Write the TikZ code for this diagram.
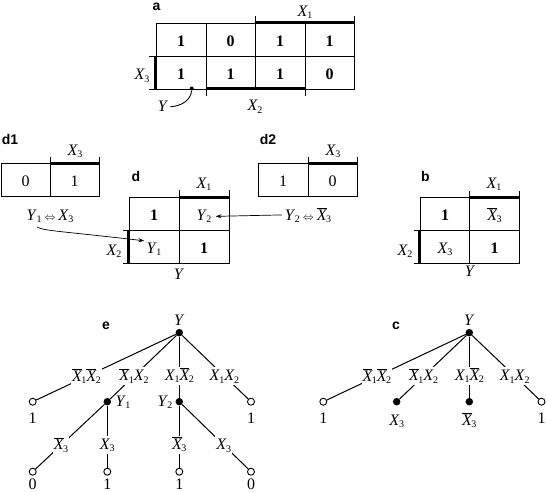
\documentclass[tikz,border=0pt]{standalone}
\usepackage{fontspec}
\setmainfont{Liberation Serif}
\newfontfamily\lblfont{Liberation Sans}
\usetikzlibrary{arrows.meta}
\newcommand\mysub[1]{\raisebox{-2.2pt}{\fontsize{10}{10}\selectfont #1}}
\newcommand\VX[1]{\textit{X}\kern-0.03em\mysub{#1}}
\newcommand\VXB[1]{$\overline{\mbox{\itshape X}}$\kern-0.03em\mysub{#1}}
\newcommand\VY[1]{\textit{Y}\kern-0.03em\mysub{#1}}
\newcommand\myiff{\hspace{3pt}{\fontsize{11}{11}\selectfont$\Leftrightarrow$}\hspace{3pt}}
\begin{document}
\begin{tikzpicture}[x=1pt,y=-1pt,font=\fontsize{16}{18}\selectfont,
  gridln/.style={line width=0.9pt},
  thickbar/.style={line width=3pt},
  txt/.style={inner sep=0pt,anchor=base},
  bf/.style={txt,font=\fontsize{16}{18}\selectfont\bfseries},
  panel/.style={inner sep=0pt,anchor=base,font=\lblfont\bfseries\fontsize{14}{16}\selectfont},
  edge/.style={line width=1pt},
  fdot/.style={circle,fill=black,inner sep=0pt,minimum size=7.5pt},
  odot/.style={circle,draw,fill=white,inner sep=0pt,minimum size=7pt,line width=0.9pt},
  elbl/.style={fill=white,inner sep=1pt,text height=12.5pt,text depth=3pt},
  arr/.style={line width=0.7pt,-{Stealth[length=6pt,width=4pt]}}]
\useasboundingbox (0,0) rectangle (546,492);

% ---------- panel a
\node[panel] (la) at (156.5,11) {a};
\draw[gridln] (156,23) rectangle (354,89);
\draw[gridln] (206,23) -- (206,89) (255,23) -- (255,89) (305,23) -- (305,89) (156,56) -- (354,56);
\draw[thickbar] (255,23) -- (354,23);
\draw[gridln] (255,23) -- (255,16) (354,23) -- (354,16);
\draw[thickbar] (155.5,56) -- (155.5,89);
\draw[gridln] (156,56) -- (149,56) (156,89) -- (149,89);
\draw[thickbar] (206,89) -- (305,89);
\draw[gridln] (206,89) -- (206,96) (305,89) -- (305,96);
\node[txt] (ax1) at (305,16.5) {\VX{1}};
\node[txt] (ax3) at (142,80) {\VX{3}};
\node[txt] (ax2) at (255,111) {\VX{2}};
\node[txt] (ay) at (163,112) {\textit{Y}};
\node[bf] (a11) at (181,46.5) {1};
\node[bf] (a12) at (230.5,46.5) {0};
\node[bf] (a13) at (280,46.5) {1};
\node[bf] (a14) at (329.5,46.5) {1};
\node[bf] (a21) at (181,79.5) {1};
\node[bf] (a22) at (230.5,79.5) {1};
\node[bf] (a23) at (280,79.5) {1};
\node[bf] (a24) at (329.5,79.5) {0};
\node[circle,fill=black,inner sep=0pt,minimum size=4pt] (adot) at (191.7,88.5) {};
\draw[gridln] (adot) .. controls (191,99) and (183,106) .. ([xshift=2pt]ay.east);

% ---------- panel d1
\node[panel] (ld1) at (10,145) {d1};
\draw[gridln] (1,163) rectangle (99,196.5);
\draw[gridln] (50,163) -- (50,196.5);
\draw[thickbar] (50,163) -- (99,163);
\draw[gridln] (50,163) -- (50,157) (99,163) -- (99,157);
\node[txt] (d1x3) at (75,155) {\VX{3}};
\node[txt] (d1a) at (25.5,186.7) {0};
\node[txt] (d1b) at (74.5,186.7) {1};
\node[txt] (iff1) at (50,220) {\VY{1}\myiff\VX{3}};

% ---------- panel d2
\node[panel] (ld2) at (268,145) {d2};
\draw[gridln] (258,163) rectangle (357,196.5);
\draw[gridln] (308,163) -- (308,196.5);
\draw[thickbar] (308,163) -- (357,163);
\draw[gridln] (308,163) -- (308,157) (357,163) -- (357,157);
\node[txt] (d2x3) at (333,155) {\VX{3}};
\node[txt] (d2a) at (283,186.7) {1};
\node[txt] (d2b) at (332.5,186.7) {0};
\node[txt,inner sep=3pt] (iff2) at (308,220) {\VY{2}\myiff\VXB{3}};

% ---------- panel d
\node[panel] (ld) at (136,181) {d};
\draw[gridln] (129,197) rectangle (229,263);
\draw[gridln] (179,197) -- (179,263) (129,230) -- (229,230);
\draw[thickbar] (179,197) -- (229,197);
\draw[gridln] (179,197) -- (179,190) (229,197) -- (229,190);
\draw[thickbar] (128.5,230) -- (128.5,263);
\draw[gridln] (129,230) -- (123,230) (129,263) -- (123,263);
\node[txt] (dx1) at (204,188) {\VX{1}};
\node[txt] (dx2) at (114,255) {\VX{2}};
\node[txt] (dy) at (179,279) {\textit{Y}};
\node[bf] (d11) at (154,220.5) {1};
\node[txt,inner sep=4pt] (dy2) at (204,220.5) {\VY{2}};
\node[txt,inner sep=2pt] (dy1) at (154,253.5) {\VY{1}};
\node[bf] (d22) at (204,253.5) {1};

% arrows
\coordinate (s1) at (37,227);
\draw[arr] (s1) .. controls (44,231) and (60,231) .. (dy1.north west);
\draw[arr] (iff2.west) -- (dy2.east);

% ---------- panel b
\node[panel] (lb) at (425.5,181) {b};
\draw[gridln] (420,197) rectangle (519,263);
\draw[gridln] (469.5,197) -- (469.5,263) (420,230) -- (519,230);
\draw[thickbar] (469.5,197) -- (519,197);
\draw[gridln] (469.5,197) -- (469.5,191) (519,197) -- (519,191);
\draw[thickbar] (419.5,230) -- (419.5,263);
\draw[gridln] (420,230) -- (414,230) (420,263) -- (414,263);
\node[txt] (bx1) at (494,188) {\VX{1}};
\node[txt] (bx2) at (405,255.5) {\VX{2}};
\node[txt] (by) at (470,276) {\textit{Y}};
\node[bf] (b11) at (445,220.5) {1};
\node[txt] (b12) at (494.5,220.5) {\VXB{3}};
\node[txt] (b21) at (445,253.5) {\VX{3}};
\node[bf] (b22) at (494.5,253.5) {1};

% ---------- tree e
\node[panel] (le) at (106,329) {e};
\node[fdot] (er) at (179.3,332.7) {};
\node[txt] (ery) at (179.3,325) {\textit{Y}};
\node[odot] (e1) at (32.7,401.7) {};
\node[fdot] (eY1) at (107.3,401.7) {};
\node[fdot] (eY2) at (179.3,401.7) {};
\node[odot] (e4) at (251,401.7) {};
\node[odot] (e5) at (32.7,471.7) {};
\node[odot] (e6) at (107.3,471.7) {};
\node[odot] (e7) at (179.3,471.7) {};
\node[odot] (e8) at (251,471.7) {};
\draw[edge] (er) -- node[elbl,pos=0.64] {\VXB{1}\VXB{2}} (e1);
\draw[edge] (er) -- node[elbl,pos=0.64] {\VXB{1}\VX{2}} (eY1);
\draw[edge] (er) -- node[elbl,pos=0.64] {\VX{1}\VXB{2}} (eY2);
\draw[edge] (er) -- node[elbl,pos=0.64] {\VX{1}\VX{2}} (e4);
\draw[edge] (eY1) -- node[elbl,pos=0.63] {\VXB{3}} (e5);
\draw[edge] (eY1) -- node[elbl,pos=0.63] {\VX{3}} (e6);
\draw[edge] (eY2) -- node[elbl,pos=0.63] {\VXB{3}} (e7);
\draw[edge] (eY2) -- node[elbl,pos=0.63] {\VX{3}} (e8);
\node[txt] (e1v) at (32.7,423) {1};
\node[txt] (e4v) at (251,423) {1};
\node[txt] (eY1l) at (123,406) {\VY{1}};
\node[txt] (eY2l) at (165,406) {\VY{2}};
\node[txt] (e5v) at (32.7,489) {0};
\node[txt] (e6v) at (107.3,489) {1};
\node[txt] (e7v) at (179.3,489) {1};
\node[txt] (e8v) at (251,489) {0};

% ---------- tree c
\node[panel] (lc) at (396,329) {c};
\node[fdot] (cr) at (469.3,332.7) {};
\node[txt] (cry) at (469.3,325) {\textit{Y}};
\node[odot] (c1) at (323.3,401.7) {};
\node[fdot] (c2) at (396.7,401.7) {};
\node[fdot] (c3) at (469.3,401.7) {};
\node[odot] (c4) at (541.5,401.7) {};
\draw[edge] (cr) -- node[elbl,pos=0.64] {\VXB{1}\VXB{2}} (c1);
\draw[edge] (cr) -- node[elbl,pos=0.64] {\VXB{1}\VX{2}} (c2);
\draw[edge] (cr) -- node[elbl,pos=0.64] {\VX{1}\VXB{2}} (c3);
\draw[edge] (cr) -- node[elbl,pos=0.64] {\VX{1}\VX{2}} (c4);
\node[txt] (c1v) at (323.3,423) {1};
\node[txt] (c2v) at (396.7,425) {\VX{3}};
\node[txt] (c3v) at (469.3,425) {\VXB{3}};
\node[txt] (c4v) at (541.5,423) {1};
\end{tikzpicture}
\end{document}
